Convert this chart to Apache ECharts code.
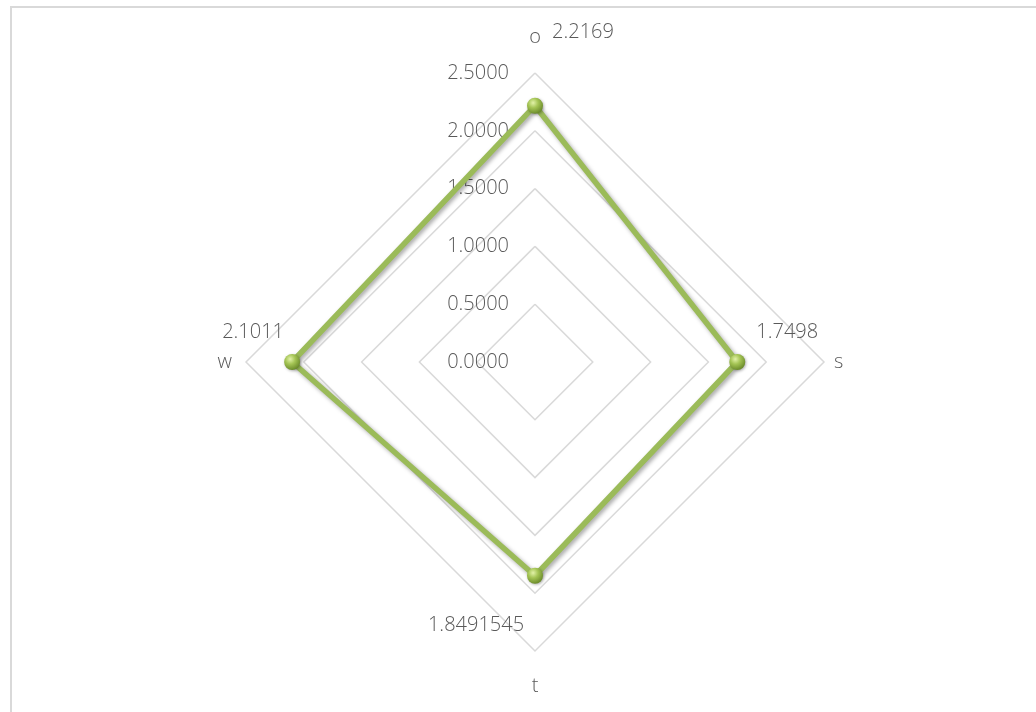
<!DOCTYPE html>
<html>
<head>
<meta charset="utf-8">
<script src="https://cdn.jsdelivr.net/npm/echarts@6/dist/echarts.min.js"></script>
<style>
    html, body { margin: 0; padding: 0; background: #fff; }
    #main { width: 1036px; height: 712px; }
</style>
</head>
<body>
<div id="main"></div>
<script>
// 指标名称 (ECharts 逆时针排列：上、左、下、右)
var indicatorNames = ['o', 'w', 't', 's'];
// 系列数值
var seriesValues = [2.2169, 2.1011, 1.8491545, 1.7498];
// 轴刻度
var axisMax = 2.5;
var axisSplit = 5;
// 数据标签偏移 (相对于数据点)
var labelOffsets = [[48, -73], [-39, -30], [-59, 50], [50, -30]];
// 指标名称间距
var nameGaps = [26, 14, 25, 10];

var chart = echarts.init(document.getElementById('main'));
var textColor = '#595959';
var fontFamily = '"Open Sans", "Lato", sans-serif';

var indicators = indicatorNames.map(function(n, i){
    return {
        name: n,
        max: axisMax,
        min: 0,
        nameGap: nameGaps[i],
        axisLabel: { show: i === 0 }
    };
});

/*主折线*/
var series = [{
    type: 'radar',
    z: 3,
    data: [{ value: seriesValues }],
    symbol: 'circle',
    symbolSize: 16,
    lineStyle: {
        color: '#9BBB59',
        width: 5.5,
        shadowColor: 'rgba(0,0,0,0.35)',
        shadowBlur: 4,
        shadowOffsetX: 2,
        shadowOffsetY: 2
    },
    itemStyle: {
        color: new echarts.graphic.RadialGradient(0.38, 0.32, 0.7, [
            { offset: 0, color: '#e2f2a8' },
            { offset: 0.45, color: '#a4c454' },
            { offset: 1, color: '#6a8a2a' }
        ]),
        borderWidth: 0,
        shadowColor: 'rgba(0,0,0,0.3)',
        shadowBlur: 3,
        shadowOffsetX: 1,
        shadowOffsetY: 1
    },
    label: { show: false },
    emphasis: { disabled: true },
    silent: true
}];

/*数据标签，每个顶点一个*/
indicatorNames.forEach(function(n, i){
    series.push({
        type: 'radar',
        z: 4,
        silent: true,
        data: [{ value: seriesValues }],
        symbol: 'circle',
        symbolSize: 1,
        lineStyle: { opacity: 0, width: 0 },
        itemStyle: { color: 'rgba(0,0,0,0)' },
        label: {
            show: true,
            position: 'inside',
            offset: labelOffsets[i],
            color: textColor,
            fontFamily: fontFamily,
            fontWeight: 300,
            fontSize: 20,
            formatter: function(p){
                return p.dimensionIndex === i ? String(seriesValues[i]) : '';
            }
        },
        emphasis: { disabled: true }
    });
});

var option = {
    backgroundColor: '#fff',
    animation: false,
    graphic: [{
        type: 'rect',
        shape: { x: 11, y: 7, width: 1200, height: 900 },
        style: { fill: 'none', stroke: '#d9d9d9', lineWidth: 2 },
        silent: true
    }],
    radar: {
        center: [535, 362],
        radius: 289,
        startAngle: 90,
        shape: 'polygon',
        splitNumber: axisSplit,
        indicator: indicators,
        axisName: {
            color: textColor,
            fontFamily: fontFamily,
            fontWeight: 300,
            fontSize: 20
        },
        axisLine: { show: false },
        axisTick: { show: false },
        axisLabel: {
            show: true,
            margin: 26,
            color: textColor,
            fontFamily: fontFamily,
            fontWeight: 300,
            fontSize: 20,
            formatter: function(v){ return Number(v).toFixed(4); }
        },
        splitLine: { lineStyle: { color: '#d9d9d9', width: 1.5 } },
        splitArea: { show: false }
    },
    series: series
};
chart.setOption(option);
</script>
</body>
</html>
